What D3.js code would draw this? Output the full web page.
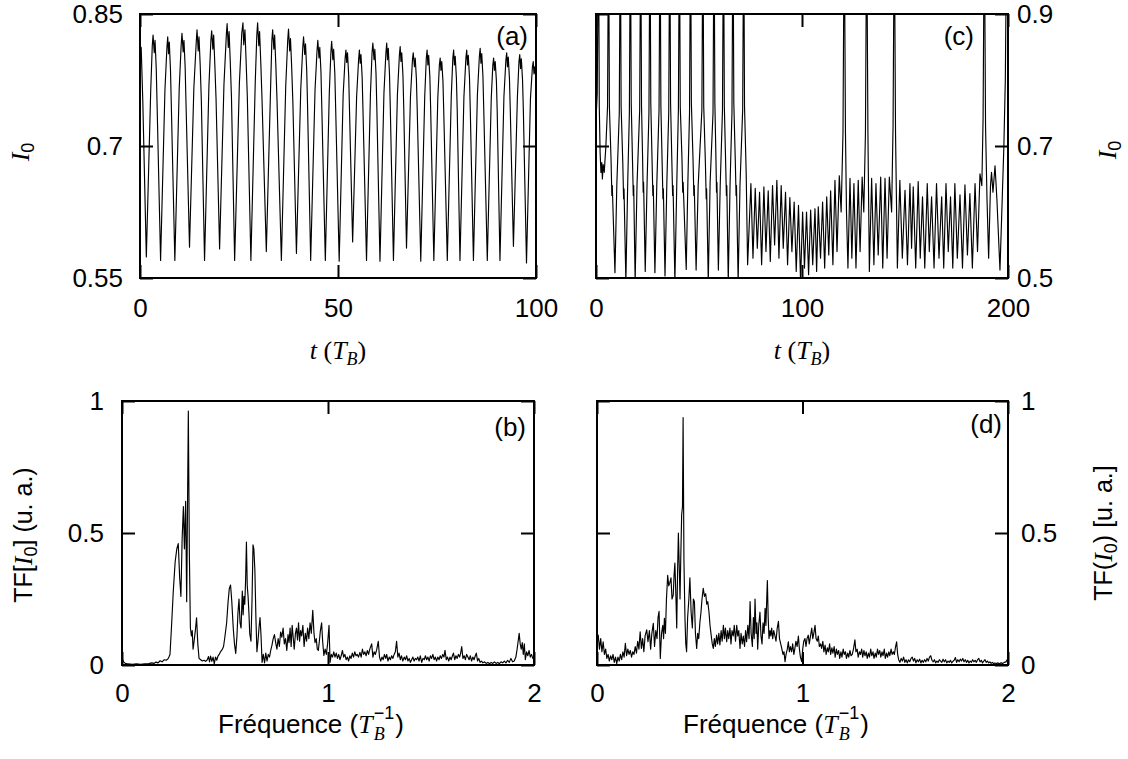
<!DOCTYPE html>
<html><head><meta charset="utf-8">
<script src="https://cdn.jsdelivr.net/npm/d3@7"></script>
<style>body{margin:0;background:#fff}svg{display:block}text{white-space:pre}</style>
</head><body>
<svg id="chart" width="1128" height="759"></svg>
<script>
// ---------- tick values & labels ----------
const ticksA_x = [0, 50, 100], labelsA_x = ["0", "50", "100"];
const ticksA_y = [0.55, 0.7, 0.85], labelsA_y = ["0.55", "0.7", "0.85"];
const ticksC_x = [0, 100, 200], labelsC_x = ["0", "100", "200"];
const ticksC_y = [0.5, 0.7, 0.9], labelsC_y = ["0.5", "0.7", "0.9"];
const ticksF_x = [0, 1, 2], labelsF_x = ["0", "1", "2"];
const ticksF_y = [0, 0.5, 1], labelsF_y = ["0", "0.5", "1"];

// ---------- (a) I0 versus t (T_B) ----------
const seriesA = [
[0,0.800],[0.3,0.812],[0.7,0.752],
[1.6,0.574],[2.7,0.762],[3.1,0.814],[3.3,0.826],[3.6,0.806],[3.8,0.820],[4.1,0.788],[4.3,0.750],
[5.2,0.570],[6.3,0.764],[6.8,0.812],[7.0,0.824],[7.2,0.805],[7.4,0.818],[7.7,0.786],[7.9,0.748],
[8.8,0.570],[9.9,0.765],[10.4,0.815],[10.6,0.828],[10.9,0.807],[11.1,0.820],[11.4,0.790],[11.6,0.752],
[12.5,0.585],[13.6,0.766],[14.2,0.818],[14.4,0.832],[14.7,0.808],[14.9,0.824],[15.2,0.792],[15.5,0.750],
[16.3,0.570],[17.4,0.768],[17.9,0.820],[18.1,0.831],[18.4,0.810],[18.6,0.826],[18.9,0.792],[19.2,0.754],
[20.1,0.583],[21.2,0.770],[21.8,0.826],[22.0,0.839],[22.3,0.812],[22.5,0.830],[22.8,0.795],[23.1,0.755],
[23.9,0.570],[25.1,0.772],[25.7,0.828],[26.0,0.840],[26.2,0.815],[26.5,0.832],[26.8,0.796],[27.1,0.756],
[28.0,0.570],[29.1,0.772],[29.5,0.826],[29.7,0.840],[30.0,0.814],[30.2,0.830],[30.5,0.795],[30.8,0.755],
[31.9,0.580],[33.0,0.770],[33.3,0.820],[33.5,0.832],[33.8,0.810],[34.0,0.826],[34.3,0.792],[34.6,0.752],
[35.7,0.570],[36.8,0.768],[37.3,0.820],[37.5,0.833],[37.8,0.808],[38.0,0.822],[38.3,0.790],[38.6,0.750],
[39.5,0.578],[40.6,0.765],[41.1,0.812],[41.3,0.824],[41.6,0.804],[41.8,0.816],[42.1,0.786],[42.3,0.748],
[43.1,0.570],[44.2,0.764],[44.7,0.808],[44.9,0.820],[45.2,0.800],[45.4,0.812],[45.7,0.784],[45.9,0.746],
[46.8,0.570],[47.8,0.760],[48.2,0.806],[48.4,0.819],[48.7,0.798],[48.9,0.810],[49.2,0.782],[49.4,0.745],
[50.3,0.569],[51.3,0.758],[51.8,0.800],[52.0,0.809],[52.2,0.795],[52.4,0.806],[52.7,0.780],[52.9,0.742],
[53.7,0.591],[54.7,0.756],[55.2,0.798],[55.4,0.809],[55.6,0.794],[55.8,0.804],[56.1,0.778],[56.3,0.742],
[57.2,0.570],[58.2,0.760],[58.6,0.806],[58.8,0.817],[59.1,0.798],[59.3,0.810],[59.6,0.782],[59.8,0.745],
[60.6,0.569],[61.6,0.760],[62.1,0.806],[62.3,0.817],[62.5,0.798],[62.7,0.811],[63.0,0.782],[63.2,0.745],
[64.0,0.570],[65.0,0.758],[65.5,0.803],[65.7,0.813],[65.9,0.796],[66.1,0.806],[66.4,0.780],[66.6,0.744],
[67.3,0.584],[68.3,0.756],[68.8,0.798],[69.0,0.806],[69.3,0.790],[69.5,0.800],[69.8,0.776],[70.0,0.742],
[70.9,0.569],[71.9,0.756],[72.3,0.800],[72.5,0.809],[72.7,0.792],[72.9,0.803],[73.2,0.778],[73.4,0.742],
[74.2,0.570],[75.2,0.754],[75.6,0.792],[75.8,0.800],[76.0,0.786],[76.2,0.796],[76.5,0.774],[76.7,0.740],
[77.6,0.570],[78.6,0.756],[79.0,0.800],[79.2,0.809],[79.4,0.792],[79.6,0.802],[79.9,0.777],[80.1,0.742],
[80.8,0.570],[81.8,0.756],[82.3,0.800],[82.5,0.809],[82.7,0.792],[82.9,0.803],[83.2,0.778],[83.4,0.742],
[84.2,0.570],[85.2,0.758],[85.7,0.802],[85.9,0.811],[86.1,0.794],[86.3,0.805],[86.6,0.779],[86.8,0.743],
[87.7,0.570],[88.7,0.754],[89.1,0.792],[89.3,0.800],[89.5,0.786],[89.7,0.796],[90.0,0.774],[90.2,0.740],
[90.9,0.570],[91.9,0.756],[92.4,0.798],[92.6,0.806],[92.8,0.790],[93.0,0.801],[93.3,0.776],[93.5,0.742],
[94.3,0.586],[95.3,0.755],[95.7,0.796],[95.9,0.804],[96.1,0.788],[96.3,0.799],[96.6,0.775],[96.8,0.742],
[97.6,0.567],[98.6,0.754],[99.1,0.790],[99.3,0.796],[99.5,0.782],[99.7,0.790],[100,0.775]
];

// ---------- (c) I0 versus t (T_B) ----------
const seriesC = [
[0,0.740],[0.6,0.780],[1.2,1.050],[1.6,0.760],[2.0,0.690],[2.4,0.660],[2.8,0.675],[3.1,0.650],[3.5,0.672],[4.0,0.660],[4.8,0.700],[5.6,0.760],
[6.1,1.05],[6.5,0.76],[7.3,0.68],[7.7,0.625],[7.9,0.64],[9.2,0.508],[10.1,0.64],[11.3,0.75],
[11.8,1.05],[12.2,0.76],[13.0,0.675],[13.4,0.62],[13.6,0.635],[14.5,0.495],[15.4,0.645],[16.2,0.75],
[16.7,1.05],[17.1,0.765],[17.7,0.68],[18.1,0.625],[18.3,0.64],[19.0,0.495],[19.9,0.64],[21.2,0.755],
[21.7,1.05],[22.1,0.76],[22.6,0.685],[22.9,0.63],[23.1,0.645],[23.9,0.51],[24.8,0.645],[25.7,0.75],
[26.2,1.05],[26.6,0.765],[27.2,0.68],[27.6,0.625],[27.8,0.64],[28.6,0.508],[29.5,0.64],[30.6,0.755],
[31.1,1.05],[31.5,0.76],[32.1,0.675],[32.5,0.62],[32.7,0.635],[33.5,0.503],[34.4,0.645],[35.3,0.75],
[35.8,1.05],[36.2,0.765],[36.8,0.68],[37.2,0.625],[37.4,0.64],[38.3,0.495],[39.2,0.64],[40.0,0.755],
[40.5,1.05],[40.9,0.76],[41.7,0.685],[42.1,0.63],[42.3,0.645],[43.8,0.513],[44.6,0.645],[45.4,0.75],
[45.9,1.05],[46.3,0.765],[47.1,0.68],[47.5,0.625],[47.7,0.64],[48.6,0.512],[49.6,0.64],[51.4,0.755],
[51.9,1.05],[52.3,0.76],[53.1,0.675],[53.5,0.62],[53.7,0.635],[54.5,0.495],[55.4,0.645],[56.8,0.75],
[57.3,1.05],[57.7,0.765],[58.2,0.685],[58.5,0.63],[58.7,0.645],[59.4,0.512],[60.3,0.64],[61.4,0.755],
[61.9,1.05],[62.3,0.76],[62.9,0.68],[63.3,0.625],[63.5,0.64],[64.2,0.495],[65.1,0.645],[66.0,0.75],
[66.5,1.05],[66.9,0.765],[67.6,0.68],[68.0,0.625],[68.2,0.64],[69.0,0.495],[69.9,0.64],[71.2,0.755],
[71.7,1.050],[72.1,0.760],[72.9,0.660],[73.6,0.520],
[75.2,0.643],[76.2,0.530],[77.3,0.636],[78.3,0.545],[79.4,0.630],[80.4,0.520],[81.5,0.638],[82.5,0.540],[83.6,0.632],[84.6,0.525],
[85.7,0.640],[86.7,0.550],[87.8,0.648],[88.8,0.530],[89.9,0.640],[90.9,0.545],[92.0,0.630],[93.0,0.520],[94.1,0.622],[95.1,0.540],
[96.2,0.615],[97.2,0.510],[98.3,0.610],[99.3,0.495],[100.3,0.600],[101.2,0.515],[102.2,0.600],[103.2,0.505],[104.2,0.603],[105.2,0.520],
[106.3,0.605],[107.1,0.510],[107.9,0.608],[109.0,0.530],[110.0,0.615],[111.0,0.515],[112.0,0.623],[113.0,0.535],[113.9,0.632],[115.0,0.520],
[116.0,0.648],[117.0,0.540],[118.1,0.655],[119.0,0.600],[119.9,0.720],
[120.5,1.050],[121.1,0.720],[121.6,0.600],[122.3,0.515],[123.3,0.651],[124.2,0.530],[125.2,0.643],[126.2,0.515],[127.3,0.648],[128.2,0.540],[129.2,0.653],[130.0,0.600],[130.8,0.720],
[131.4,1.050],[132.0,0.720],[132.7,0.510],[133.8,0.651],[134.9,0.520],[135.9,0.643],[137.0,0.535],[138.2,0.653],[139.2,0.515],[140.3,0.651],[141.3,0.530],[142.4,0.653],[143.5,0.600],[144.2,0.730],
[144.8,1.050],[145.4,0.720],[146.3,0.515],[147.5,0.648],[148.7,0.530],[150.0,0.633],[151.2,0.520],[152.4,0.643],[153.2,0.545],[154.0,0.638],[155.2,0.515],
[156.4,0.646],[157.4,0.530],[158.5,0.623],[159.6,0.515],[160.8,0.643],[161.8,0.540],[162.9,0.623],[164.1,0.515],[165.3,0.643],[166.5,0.530],
[167.8,0.623],[168.8,0.515],[169.9,0.643],[171.0,0.540],[172.1,0.623],[173.2,0.515],[174.2,0.643],[175.4,0.530],[176.7,0.626],[177.9,0.515],
[179.1,0.641],[180.3,0.535],[181.5,0.628],[182.7,0.515],[184.0,0.643],[185.2,0.540],[186.4,0.658],[187.3,0.640],[187.9,0.740],
[188.5,1.050],[189.1,0.730],[189.8,0.620],[190.6,0.530],[191.5,0.640],[192.0,0.660],[192.7,0.630],[193.7,0.670],[194.6,0.620],[196.1,0.512],
[197.2,0.620],[198.0,0.700],[198.7,0.800],[199.4,1.050],[200,0.900]
];

// ---------- (b) TF[I0] versus frequency ----------
const spectrumB = [
[0.000,0.025],[0.008,0.012],[0.016,0.006],[0.03,0.004],[0.05,0.003],[0.07,0.004],[0.09,0.003],[0.11,0.004],[0.13,0.005],[0.145,0.008],
[0.155,0.006],[0.165,0.011],[0.175,0.008],[0.185,0.016],[0.195,0.012],[0.205,0.020],[0.215,0.018],[0.225,0.025],[0.233,0.040],[0.240,0.140],
[0.249,0.280],[0.258,0.390],[0.266,0.440],[0.273,0.460],[0.280,0.330],[0.286,0.260],[0.292,0.480],[0.298,0.600],[0.303,0.440],[0.309,0.620],
[0.314,0.240],[0.318,0.600],[0.322,0.962],[0.327,0.420],[0.332,0.140],[0.337,0.110],[0.341,0.130],[0.345,0.060],[0.350,0.090],[0.356,0.130],
[0.362,0.179],[0.368,0.080],[0.374,0.025],[0.382,0.020],[0.390,0.015],[0.398,0.018],[0.406,0.014],[0.414,0.020],[0.420,0.032],[0.425,0.012],
[0.430,0.034],[0.436,0.014],[0.442,0.030],[0.448,0.004],[0.454,0.030],[0.460,0.018],[0.466,0.034],[0.472,0.040],[0.478,0.050],[0.486,0.058],
[0.493,0.070],[0.500,0.110],[0.508,0.160],[0.515,0.240],[0.521,0.290],[0.527,0.303],[0.533,0.240],[0.540,0.140],[0.546,0.080],[0.552,0.044],
[0.558,0.110],[0.563,0.200],[0.568,0.250],[0.573,0.160],[0.578,0.140],[0.584,0.280],[0.588,0.190],[0.592,0.260],[0.596,0.230],[0.600,0.320],
[0.604,0.466],[0.608,0.300],[0.612,0.260],[0.616,0.200],[0.620,0.120],[0.626,0.090],[0.631,0.240],[0.636,0.455],[0.640,0.440],[0.645,0.360],
[0.650,0.180],[0.655,0.050],[0.660,0.090],[0.665,0.140],[0.670,0.180],[0.675,0.110],[0.680,0.010],[0.686,0.040],[0.692,0.008],[0.698,0.045],
[0.704,0.015],[0.710,0.040],[0.716,0.030],[0.722,0.055],[0.728,0.075],[0.734,0.100],[0.740,0.115],[0.746,0.085],[0.752,0.060],[0.758,0.100],
[0.764,0.070],[0.770,0.125],[0.776,0.105],[0.782,0.140],[0.788,0.080],[0.794,0.100],[0.800,0.055],[0.806,0.115],[0.811,0.085],[0.816,0.140],
[0.821,0.070],[0.826,0.150],[0.831,0.105],[0.836,0.060],[0.842,0.120],[0.847,0.140],[0.852,0.095],[0.857,0.160],[0.862,0.090],[0.867,0.130],
[0.872,0.110],[0.878,0.150],[0.884,0.070],[0.890,0.120],[0.896,0.090],[0.901,0.140],[0.907,0.100],[0.913,0.160],[0.919,0.120],[0.926,0.207],
[0.932,0.120],[0.937,0.085],[0.943,0.100],[0.948,0.060],[0.953,0.055],[0.958,0.090],[0.963,0.130],[0.969,0.160],[0.974,0.090],[0.980,0.036],
[0.986,0.060],[0.992,0.040],[0.998,0.080],[1.005,0.150],[1.010,0.010],[1.016,0.040],[1.022,0.030],[1.028,0.050],[1.034,0.030],[1.040,0.045],
[1.046,0.025],[1.052,0.040],[1.058,0.020],[1.064,0.035],[1.070,0.055],[1.076,0.030],[1.082,0.040],[1.088,0.020],[1.094,0.030],[1.100,0.015],
[1.106,0.035],[1.112,0.025],[1.118,0.045],[1.124,0.030],[1.130,0.050],[1.136,0.035],[1.142,0.040],[1.148,0.030],[1.155,0.048],[1.161,0.030],
[1.167,0.060],[1.173,0.040],[1.179,0.050],[1.185,0.035],[1.191,0.055],[1.197,0.040],[1.203,0.060],[1.212,0.080],[1.218,0.030],[1.224,0.050],
[1.230,0.040],[1.237,0.060],[1.244,0.090],[1.250,0.030],[1.256,0.015],[1.262,0.030],[1.268,0.020],[1.274,0.040],[1.280,0.025],[1.285,0.040],
[1.291,0.015],[1.297,0.030],[1.303,0.020],[1.309,0.035],[1.315,0.025],[1.321,0.040],[1.327,0.050],[1.333,0.090],[1.339,0.030],[1.345,0.045],
[1.351,0.020],[1.357,0.035],[1.363,0.015],[1.370,0.030],[1.376,0.020],[1.382,0.035],[1.388,0.015],[1.394,0.025],[1.400,0.010],[1.406,0.020],
[1.412,0.030],[1.418,0.015],[1.424,0.025],[1.430,0.020],[1.436,0.030],[1.442,0.015],[1.448,0.035],[1.455,0.010],[1.461,0.025],[1.467,0.020],
[1.473,0.035],[1.479,0.020],[1.485,0.030],[1.491,0.015],[1.497,0.035],[1.503,0.025],[1.509,0.040],[1.515,0.020],[1.521,0.030],[1.527,0.015],
[1.533,0.030],[1.539,0.020],[1.545,0.035],[1.551,0.025],[1.557,0.040],[1.563,0.030],[1.568,0.056],[1.574,0.020],[1.580,0.030],[1.586,0.015],
[1.592,0.030],[1.598,0.020],[1.604,0.035],[1.609,0.045],[1.615,0.020],[1.621,0.035],[1.627,0.025],[1.633,0.040],[1.639,0.030],[1.644,0.045],
[1.649,0.070],[1.655,0.025],[1.661,0.035],[1.667,0.020],[1.673,0.040],[1.679,0.030],[1.685,0.020],[1.691,0.035],[1.697,0.015],[1.703,0.030],
[1.709,0.020],[1.715,0.035],[1.720,0.045],[1.726,0.015],[1.732,0.025],[1.738,0.010],[1.745,0.015],[1.752,0.008],[1.760,0.012],[1.768,0.006],
[1.776,0.010],[1.784,0.005],[1.792,0.010],[1.800,0.006],[1.808,0.012],[1.816,0.006],[1.824,0.010],[1.832,0.005],[1.840,0.012],[1.848,0.008],
[1.856,0.015],[1.864,0.008],[1.872,0.018],[1.880,0.010],[1.888,0.025],[1.896,0.012],[1.904,0.015],[1.912,0.030],[1.918,0.060],[1.923,0.090],
[1.928,0.120],[1.933,0.080],[1.938,0.060],[1.943,0.085],[1.948,0.040],[1.953,0.080],[1.958,0.020],[1.964,0.050],[1.970,0.035],[1.976,0.055],
[1.982,0.030],[1.988,0.040],[1.994,0.025],[2.000,0.030]
];

// ---------- (d) TF(I0) versus frequency ----------
const spectrumD = [
[0.000,0.080],[0.006,0.113],[0.012,0.060],[0.018,0.100],[0.024,0.050],[0.030,0.088],[0.036,0.040],[0.042,0.060],[0.048,0.025],[0.054,0.040],
[0.060,0.015],[0.066,0.035],[0.072,0.020],[0.078,0.040],[0.084,0.010],[0.090,0.030],[0.096,0.005],[0.102,0.030],[0.108,0.015],[0.114,0.040],
[0.120,0.020],[0.126,0.050],[0.132,0.030],[0.138,0.082],[0.144,0.035],[0.150,0.060],[0.156,0.040],[0.162,0.055],[0.168,0.030],[0.174,0.050],
[0.180,0.040],[0.186,0.070],[0.192,0.045],[0.198,0.090],[0.204,0.060],[0.210,0.126],[0.216,0.063],[0.222,0.100],[0.228,0.050],[0.234,0.110],
[0.242,0.133],[0.248,0.088],[0.255,0.130],[0.261,0.060],[0.267,0.120],[0.274,0.158],[0.280,0.070],[0.286,0.130],[0.292,0.100],[0.297,0.180],
[0.302,0.203],[0.308,0.025],[0.314,0.120],[0.320,0.150],[0.324,0.100],[0.328,0.177],[0.333,0.120],[0.338,0.250],[0.344,0.340],[0.349,0.300],
[0.354,0.310],[0.360,0.330],[0.365,0.250],[0.371,0.265],[0.375,0.340],[0.379,0.386],[0.384,0.260],[0.388,0.140],[0.392,0.350],[0.396,0.500],
[0.400,0.380],[0.404,0.250],[0.408,0.420],[0.412,0.570],[0.416,0.600],[0.419,0.937],[0.423,0.400],[0.428,0.180],[0.432,0.080],[0.436,0.050],
[0.441,0.180],[0.447,0.250],[0.452,0.330],[0.458,0.200],[0.464,0.140],[0.469,0.250],[0.474,0.240],[0.479,0.120],[0.485,0.063],[0.490,0.120],
[0.495,0.100],[0.501,0.164],[0.506,0.200],[0.511,0.250],[0.517,0.290],[0.523,0.260],[0.529,0.270],[0.534,0.230],[0.539,0.240],[0.545,0.200],
[0.550,0.150],[0.556,0.110],[0.561,0.080],[0.566,0.063],[0.571,0.100],[0.576,0.070],[0.582,0.113],[0.587,0.080],[0.593,0.120],[0.598,0.076],
[0.604,0.130],[0.609,0.090],[0.615,0.150],[0.620,0.100],[0.625,0.140],[0.631,0.088],[0.636,0.130],[0.641,0.100],[0.647,0.140],[0.652,0.080],
[0.657,0.130],[0.663,0.110],[0.668,0.150],[0.674,0.090],[0.680,0.150],[0.685,0.110],[0.690,0.130],[0.696,0.063],[0.701,0.120],[0.707,0.080],
[0.712,0.110],[0.718,0.070],[0.723,0.130],[0.728,0.088],[0.734,0.150],[0.740,0.100],[0.745,0.240],[0.750,0.120],[0.756,0.070],[0.761,0.180],
[0.765,0.100],[0.769,0.250],[0.774,0.120],[0.778,0.160],[0.782,0.060],[0.787,0.150],[0.793,0.200],[0.798,0.110],[0.803,0.080],[0.808,0.160],
[0.813,0.120],[0.818,0.215],[0.822,0.150],[0.826,0.250],[0.829,0.320],[0.833,0.180],[0.837,0.100],[0.842,0.130],[0.846,0.110],[0.850,0.140],
[0.855,0.100],[0.860,0.130],[0.866,0.110],[0.871,0.090],[0.877,0.140],[0.883,0.165],[0.888,0.100],[0.894,0.080],[0.899,0.063],[0.905,0.040],
[0.910,0.050],[0.915,0.013],[0.920,0.040],[0.926,0.060],[0.931,0.088],[0.936,0.050],[0.941,0.070],[0.947,0.050],[0.952,0.080],[0.958,0.040],
[0.963,0.063],[0.968,0.090],[0.974,0.070],[0.980,0.110],[0.985,0.060],[0.990,0.030],[0.996,0.013],[1.001,0.060],[1.006,0.090],[1.012,0.100],
[1.017,0.070],[1.022,0.100],[1.028,0.113],[1.033,0.080],[1.039,0.110],[1.045,0.140],[1.050,0.100],[1.055,0.120],[1.061,0.150],[1.066,0.100],
[1.072,0.090],[1.077,0.110],[1.082,0.070],[1.088,0.080],[1.093,0.063],[1.099,0.090],[1.104,0.050],[1.110,0.075],[1.115,0.040],[1.121,0.065],
[1.126,0.050],[1.132,0.080],[1.137,0.040],[1.143,0.065],[1.148,0.045],[1.154,0.070],[1.159,0.030],[1.165,0.060],[1.170,0.040],[1.176,0.055],
[1.181,0.025],[1.187,0.050],[1.192,0.030],[1.198,0.060],[1.203,0.040],[1.209,0.050],[1.214,0.025],[1.220,0.045],[1.225,0.030],[1.231,0.055],
[1.236,0.035],[1.242,0.040],[1.248,0.060],[1.255,0.095],[1.260,0.050],[1.266,0.060],[1.271,0.030],[1.277,0.050],[1.282,0.040],[1.288,0.060],
[1.293,0.030],[1.299,0.055],[1.304,0.035],[1.310,0.050],[1.315,0.025],[1.321,0.045],[1.326,0.030],[1.332,0.060],[1.337,0.035],[1.343,0.050],
[1.348,0.025],[1.354,0.045],[1.359,0.030],[1.365,0.060],[1.370,0.040],[1.376,0.055],[1.381,0.030],[1.387,0.050],[1.392,0.035],[1.398,0.060],
[1.403,0.025],[1.409,0.045],[1.414,0.030],[1.420,0.050],[1.425,0.035],[1.431,0.060],[1.436,0.040],[1.442,0.050],[1.447,0.040],[1.453,0.070],
[1.458,0.088],[1.463,0.040],[1.468,0.020],[1.474,0.010],[1.480,0.025],[1.486,0.015],[1.492,0.030],[1.498,0.010],[1.504,0.020],[1.510,0.008],
[1.516,0.020],[1.522,0.012],[1.528,0.025],[1.534,0.030],[1.540,0.015],[1.546,0.025],[1.552,0.008],[1.558,0.020],[1.564,0.012],[1.570,0.022],
[1.576,0.008],[1.582,0.018],[1.588,0.010],[1.594,0.020],[1.600,0.012],[1.606,0.025],[1.612,0.015],[1.618,0.030],[1.624,0.035],[1.630,0.018],
[1.636,0.012],[1.642,0.020],[1.648,0.008],[1.654,0.015],[1.660,0.010],[1.666,0.020],[1.672,0.015],[1.678,0.010],[1.684,0.022],[1.690,0.012],
[1.696,0.020],[1.702,0.008],[1.708,0.015],[1.714,0.010],[1.720,0.018],[1.726,0.008],[1.732,0.014],[1.738,0.018],[1.744,0.028],[1.750,0.010],
[1.756,0.020],[1.762,0.012],[1.768,0.022],[1.774,0.015],[1.780,0.025],[1.786,0.012],[1.792,0.020],[1.798,0.010],[1.804,0.018],[1.810,0.008],
[1.816,0.015],[1.822,0.010],[1.828,0.020],[1.834,0.012],[1.840,0.018],[1.846,0.010],[1.852,0.020],[1.858,0.025],[1.864,0.012],[1.870,0.018],
[1.876,0.008],[1.882,0.015],[1.888,0.020],[1.894,0.010],[1.900,0.015],[1.906,0.008],[1.912,0.012],[1.918,0.006],[1.924,0.010],[1.930,0.005],
[1.936,0.008],[1.942,0.005],[1.950,0.008],[1.958,0.005],[1.966,0.008],[1.974,0.006],[1.982,0.010],[1.990,0.012],[2.000,0.025]
];

// ---------- drawing ----------
const SANS = "'Liberation Sans', Arial, sans-serif";
const SERIF = "'Liberation Serif', 'Times New Roman', serif";
const FS = 26, SUB = 18, TICK = 13;
const svg = d3.select("#chart");
const defs = svg.append("defs");

function measure(p) {
  const t = svg.append("text").attr("font-family", p.family).attr("font-size", p.size)
    .attr("font-style", p.style || "normal").text(p.text);
  const w = t.node().getComputedTextLength();
  t.remove();
  return w;
}

// rich text: pieces placed one after another; a "stack" piece sits under the previous one
function rich(parent, pieces, anchor) {
  let x = 0, prevStart = 0, prevW = 0;
  const placed = [];
  pieces.forEach(p => {
    const w = measure(p);
    let px;
    if (p.stack) { px = prevStart; x = Math.max(prevStart + prevW, prevStart + w); }
    else { px = x + (p.dx || 0); x = px + w; }
    placed.push({ p, px });
    prevStart = px; prevW = w;
  });
  const off = anchor === "middle" ? -x / 2 : anchor === "end" ? -x : 0;
  placed.forEach(({ p, px }) => {
    parent.append("text").attr("fill", "#000")
      .attr("x", px + off).attr("y", p.dy || 0)
      .attr("font-family", p.family).attr("font-size", p.size)
      .attr("font-style", p.style || "normal").text(p.text);
  });
}

function drawPanel(p) {
  const x = d3.scaleLinear().domain(p.xDomain).range([p.x0, p.x1]);
  const y = d3.scaleLinear().domain(p.yDomain).range([p.y1, p.y0]);
  const g = svg.append("g");
  const cid = "clip-" + p.id;
  defs.append("clipPath").attr("id", cid).append("rect")
    .attr("x", p.x0).attr("y", p.y0).attr("width", p.x1 - p.x0).attr("height", p.y1 - p.y0);

  g.append("path").datum(p.data)
    .attr("clip-path", `url(#${cid})`)
    .attr("fill", "none").attr("stroke", "#000").attr("stroke-width", 1.15)
    .attr("stroke-linejoin", "round")
    .attr("d", d3.line().x(d => x(d[0])).y(d => y(d[1])));

  const fx = d => p.xLabels[p.xTicks.indexOf(d)];
  const fy = d => p.yLabels[p.yTicks.indexOf(d)];
  function style(ax) {
    ax.select(".domain").remove();
    ax.attr("font-family", SANS).attr("font-size", FS);
    ax.selectAll("line").attr("stroke", "#000").attr("stroke-width", 2);
    ax.selectAll("text").attr("fill", "#000");
  }
  g.append("g").attr("transform", `translate(0,${p.y1})`)
    .call(d3.axisBottom(x).tickValues(p.xTicks).tickFormat(fx).tickSizeInner(-TICK).tickSizeOuter(0).tickPadding(p.xPad))
    .call(style);
  g.append("g").attr("transform", `translate(0,${p.y0})`)
    .call(d3.axisTop(x).tickValues(p.xTicks).tickFormat("").tickSizeInner(-TICK).tickSizeOuter(0))
    .call(style);
  g.append("g").attr("transform", `translate(${p.x0},0)`)
    .call(d3.axisLeft(y).tickValues(p.yTicks).tickFormat(p.ySide === "left" ? fy : "").tickSizeInner(-TICK).tickSizeOuter(0).tickPadding(p.yPad))
    .call(style);
  g.append("g").attr("transform", `translate(${p.x1},0)`)
    .call(d3.axisRight(y).tickValues(p.yTicks).tickFormat(p.ySide === "right" ? fy : "").tickSizeInner(-TICK).tickSizeOuter(0).tickPadding(p.yPad))
    .call(style);

  g.append("rect").attr("x", p.x0).attr("y", p.y0).attr("width", p.x1 - p.x0).attr("height", p.y1 - p.y0)
    .attr("fill", "none").attr("stroke", "#000").attr("stroke-width", 2);

  g.append("text").attr("x", p.letterX).attr("y", p.letterY).attr("text-anchor", "end")
    .attr("font-family", SANS).attr("font-size", FS).attr("fill", "#000").text(p.letter);
}

drawPanel({ id: "a", x0: 140, x1: 536, y0: 14, y1: 278, xDomain: [0, 100], yDomain: [0.55, 0.85],
  xTicks: ticksA_x, xLabels: labelsA_x, yTicks: ticksA_y, yLabels: labelsA_y, ySide: "left", yPad: 17, xPad: 20.5,
  data: seriesA, letter: "(a)", letterX: 528, letterY: 45 });
drawPanel({ id: "c", x0: 596, x1: 1008, y0: 14, y1: 278, xDomain: [0, 200], yDomain: [0.5, 0.9],
  xTicks: ticksC_x, xLabels: labelsC_x, yTicks: ticksC_y, yLabels: labelsC_y, ySide: "right", yPad: 9, xPad: 20.5,
  data: seriesC, letter: "(c)", letterX: 974, letterY: 45 });
drawPanel({ id: "b", x0: 122, x1: 534, y0: 401, y1: 665, xDomain: [0, 2], yDomain: [0, 1],
  xTicks: ticksF_x, xLabels: labelsF_x, yTicks: ticksF_y, yLabels: labelsF_y, ySide: "left", yPad: 18, xPad: 19,
  data: spectrumB, letter: "(b)", letterX: 526, letterY: 436 });
drawPanel({ id: "d", x0: 597, x1: 1008, y0: 401, y1: 665, xDomain: [0, 2], yDomain: [0, 1],
  xTicks: ticksF_x, xLabels: labelsF_x, yTicks: ticksF_y, yLabels: labelsF_y, ySide: "right", yPad: 13, xPad: 19,
  data: spectrumD, letter: "(d)", letterX: 1002, letterY: 433 });

// ---------- axis titles ----------
const tLabel = [
  { text: "t", family: SERIF, size: FS, style: "italic" },
  { text: " (", family: SERIF, size: FS },
  { text: "T", family: SERIF, size: FS, style: "italic" },
  { text: "B", family: SERIF, size: SUB, style: "italic", dy: 6 },
  { text: ")", family: SERIF, size: FS }
];
rich(svg.append("g").attr("transform", "translate(338,359)"), tLabel, "middle");
rich(svg.append("g").attr("transform", "translate(802,359)"), tLabel, "middle");

const fLabel = [
  { text: "Fréquence (", family: SANS, size: FS },
  { text: "T", family: SERIF, size: FS, style: "italic" },
  { text: "−1", family: SANS, size: 18, dy: -14, dx: 1 },
  { text: "B", family: SERIF, size: 18, style: "italic", dy: 7, stack: true },
  { text: ")", family: SANS, size: FS, dx: 1 }
];
rich(svg.append("g").attr("transform", "translate(218,733)"), fLabel, "start");
rich(svg.append("g").attr("transform", "translate(683,733)"), fLabel, "start");

const iLabel = [
  { text: "I", family: SERIF, size: FS, style: "italic" },
  { text: "0", family: SANS, size: SUB, dy: 5 }
];
rich(svg.append("g").attr("transform", "translate(29,152) rotate(-90)"), iLabel, "middle");
rich(svg.append("g").attr("transform", "translate(1116,150) rotate(-90)"), iLabel, "middle");

rich(svg.append("g").attr("transform", "translate(32,535) rotate(-90)"), [
  { text: "TF[", family: SANS, size: 25 },
  { text: "I", family: SERIF, size: FS, style: "italic" },
  { text: "0", family: SANS, size: SUB, dy: 5 },
  { text: "] (u. a.)", family: SANS, size: 25 }
], "middle");
rich(svg.append("g").attr("transform", "translate(1112,533) rotate(-90)"), [
  { text: "TF(", family: SANS, size: 25 },
  { text: "I", family: SERIF, size: FS, style: "italic" },
  { text: "0", family: SANS, size: SUB, dy: 5 },
  { text: ") [u. a.]", family: SANS, size: 25 }
], "middle");
</script>
</body></html>
